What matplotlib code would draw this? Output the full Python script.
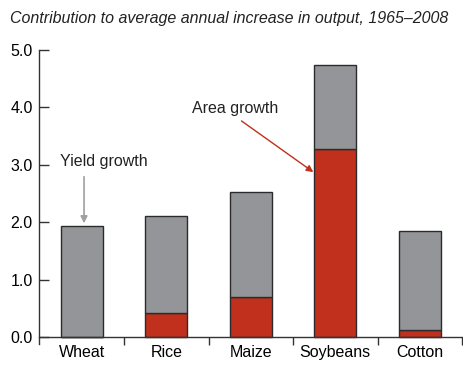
import numpy as np
import matplotlib.pyplot as plt

plt.rcParams['font.family'] = ['Liberation Sans', 'DejaVu Sans']

# Contribution to average annual output growth, 1965-2008
crops = ['Wheat', 'Rice', 'Maize', 'Soybeans', 'Cotton']
area_growth = [0.0, 0.42, 0.70, 3.27, 0.13]
total_growth = [1.93, 2.11, 2.53, 4.73, 1.85]
yield_growth = [t - a for t, a in zip(total_growth, area_growth)]
yticks = [0.0, 1.0, 2.0, 3.0, 4.0, 5.0]

GRAY = '#939598'
RED = '#c0301c'
EDGE = '#2b2b2b'
FS = 11.5

fig = plt.figure(figsize=(4.63, 3.65), dpi=100)
ax = fig.add_axes([0.0853, 0.0575, 0.9127, 0.8065])

x = np.arange(len(crops))
ax.bar(x, area_growth, width=0.5, color=RED, edgecolor=EDGE, linewidth=1.0)
ax.bar(x, yield_growth, width=0.5, bottom=area_growth, color=GRAY,
       edgecolor=EDGE, linewidth=1.0)

ax.set_xlim(-0.5, len(crops) - 0.5)
ax.set_ylim(-0.12, 5.0)

ax.spines['top'].set_visible(False)
ax.spines['right'].set_visible(False)
ax.spines['bottom'].set_position(('data', 0))
for s in ('left', 'bottom'):
    ax.spines[s].set_color('#333333')
    ax.spines[s].set_linewidth(1.0)

ax.set_yticks(yticks)
ax.set_yticklabels([f'{v:.1f}' for v in yticks], fontsize=FS)
ax.tick_params(axis='y', direction='in', length=7, width=1.0,
               color='#333333', pad=5)

# ticks sit between categories, labels sit under the bars
ax.set_xticks(np.arange(len(crops)) + 0.5)
ax.set_xticklabels([])
ax.set_xticks(x, minor=True)
ax.set_xticklabels(crops, minor=True, fontsize=FS)
ax.tick_params(axis='x', which='major', direction='out', length=6,
               width=1.0, color='#333333')
ax.tick_params(axis='x', which='minor', length=0, pad=6)

ax.annotate('', xy=(0.027, 1.98), xytext=(0.027, 2.79),
            arrowprops=dict(arrowstyle='-|>', color='#a0a0a0', lw=1.2,
                            mutation_scale=10, shrinkA=0, shrinkB=0))
ax.text(0.26, 3.05, 'Yield growth', fontsize=FS, ha='center',
        va='center', color='#222222')

ax.annotate('', xy=(2.74, 2.87), xytext=(1.89, 3.76),
            arrowprops=dict(arrowstyle='-|>', color=RED, lw=1.0,
                            mutation_scale=10, shrinkA=0, shrinkB=0))
ax.text(1.81, 3.98, 'Area growth', fontsize=FS, ha='center',
        va='center', color='#222222')

fig.text(0.022, 0.95, 'Contribution to average annual increase in output, 1965\u20132008',
         fontsize=FS, style='italic', ha='left', va='center', color='#222222')

fig.savefig('out.png', dpi=100)
